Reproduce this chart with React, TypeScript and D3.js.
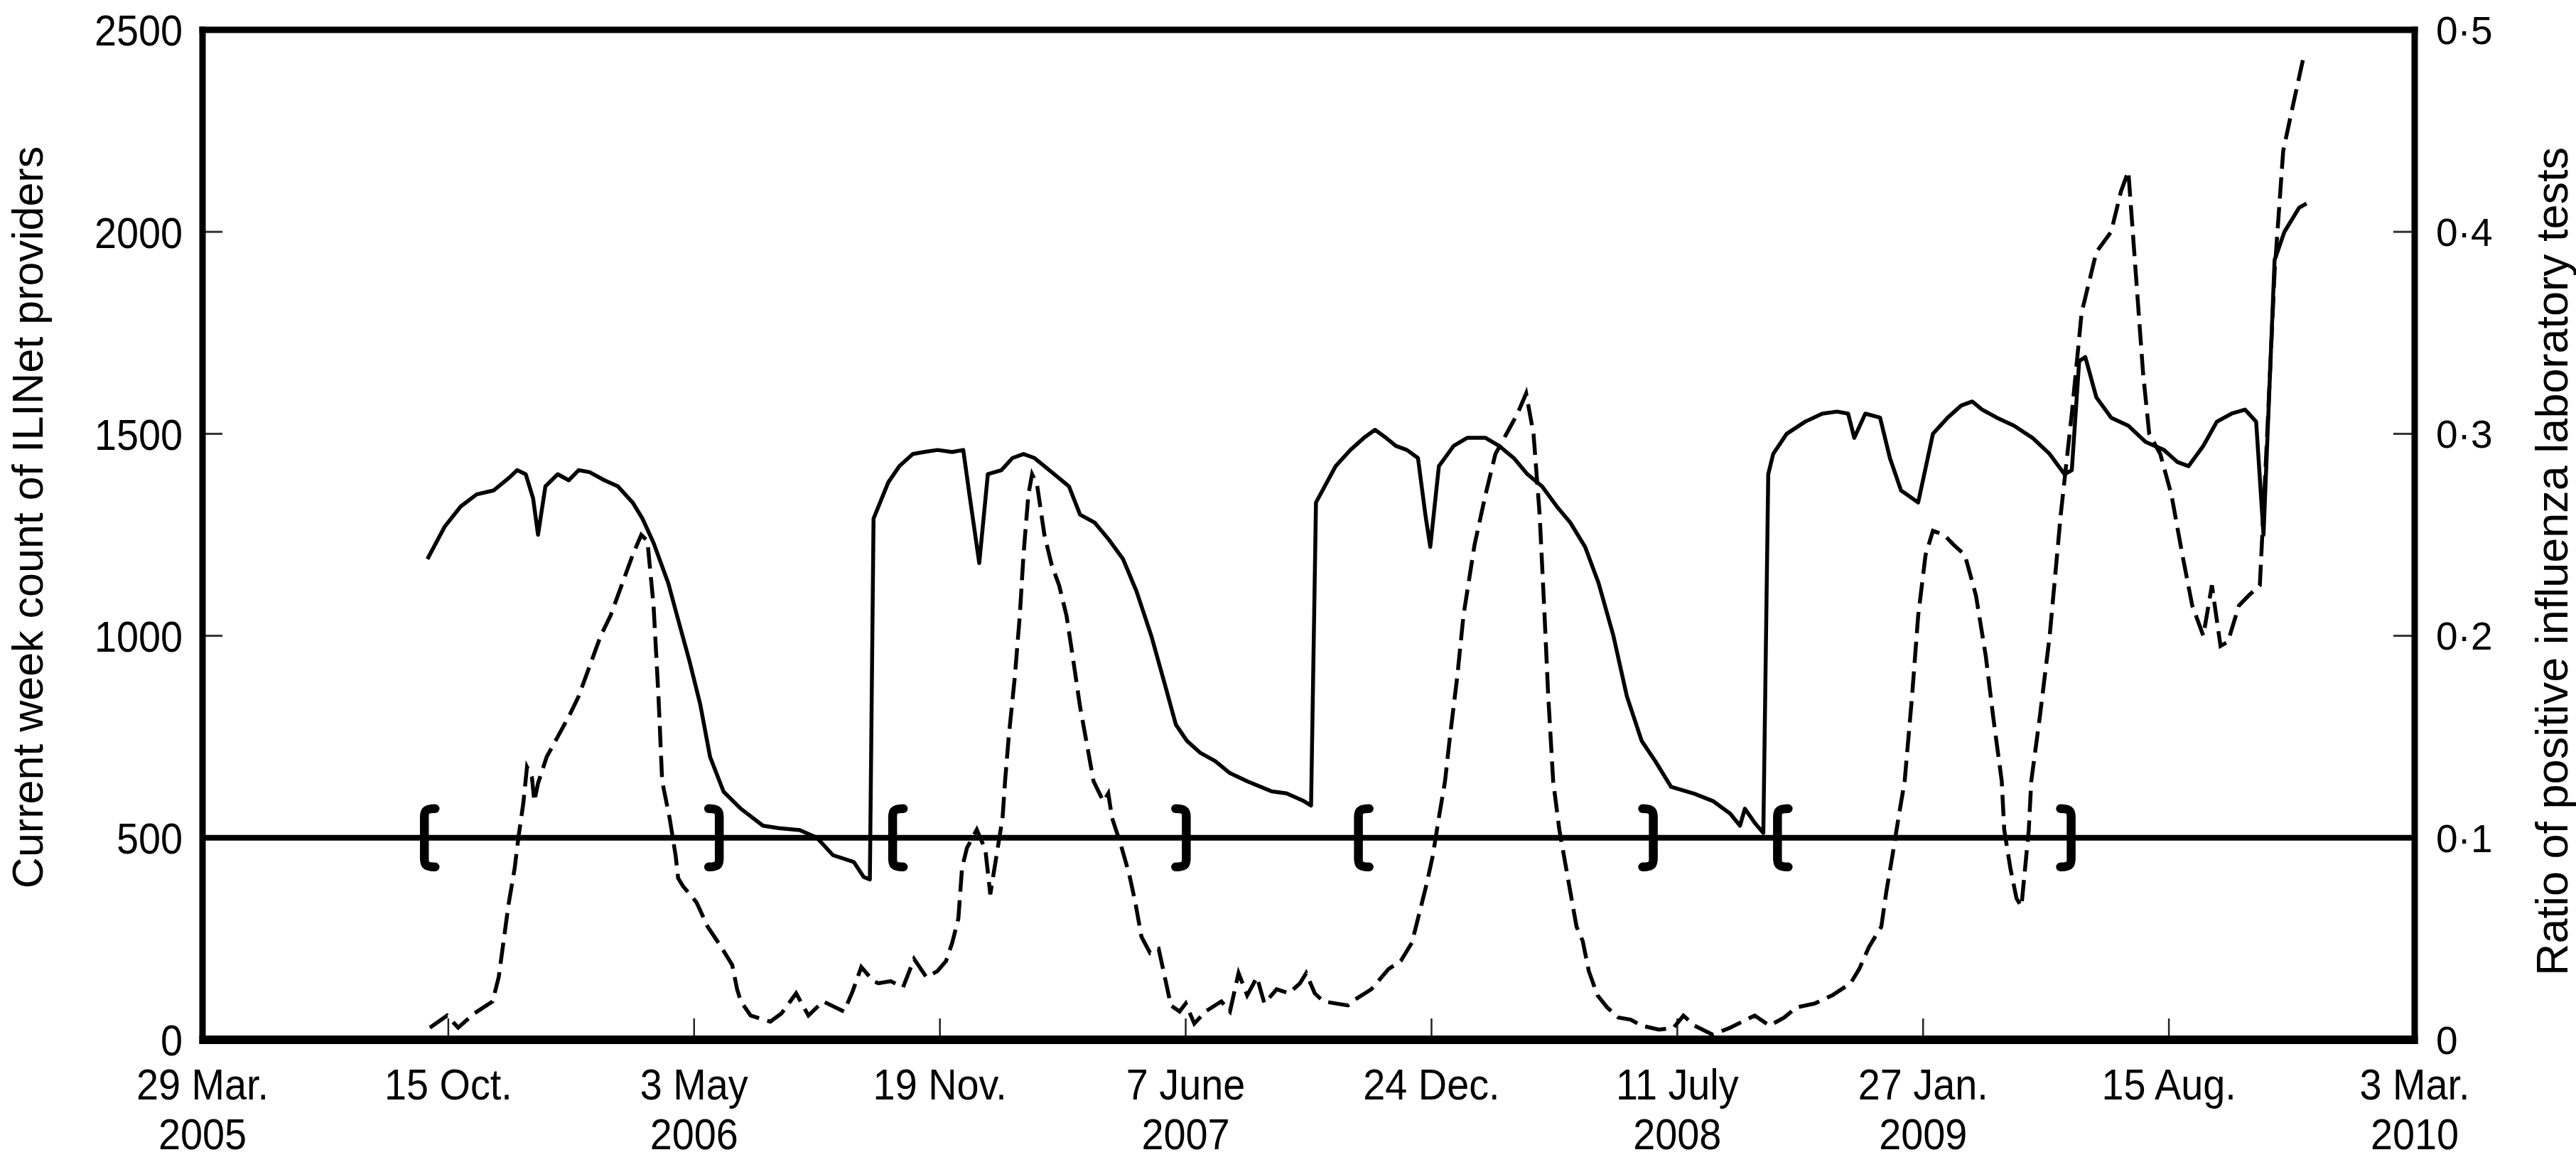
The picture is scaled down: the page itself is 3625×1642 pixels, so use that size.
import React from "react";
import * as d3 from "d3";

// ---------- data ----------
const providerCounts: [string, number][] = [
  ["2005-09-28", 1190], ["2005-10-12", 1270], ["2005-10-25", 1320], ["2005-11-07", 1350],
  ["2005-11-21", 1360], ["2005-12-03", 1390], ["2005-12-10", 1410], ["2005-12-17", 1400],
  ["2005-12-23", 1340], ["2005-12-27", 1250], ["2006-01-02", 1370], ["2006-01-12", 1400],
  ["2006-01-21", 1385], ["2006-01-29", 1410], ["2006-02-07", 1405], ["2006-02-19", 1385],
  ["2006-03-02", 1370], ["2006-03-14", 1330], ["2006-03-22", 1290], ["2006-03-31", 1230],
  ["2006-04-12", 1130], ["2006-04-20", 1040], ["2006-04-29", 940], ["2006-05-08", 830],
  ["2006-05-16", 700], ["2006-05-27", 614], ["2006-06-10", 572], ["2006-06-28", 530],
  ["2006-07-11", 524], ["2006-07-28", 519], ["2006-08-11", 500], ["2006-08-24", 457],
  ["2006-09-10", 440], ["2006-09-18", 403], ["2006-09-23", 397], ["2006-09-26", 1290],
  ["2006-10-08", 1380], ["2006-10-17", 1420], ["2006-10-28", 1450], ["2006-11-06", 1455],
  ["2006-11-17", 1460], ["2006-11-29", 1455], ["2006-12-08", 1460], ["2006-12-13", 1350],
  ["2006-12-21", 1180], ["2006-12-28", 1400], ["2007-01-08", 1410], ["2007-01-17", 1440],
  ["2007-01-26", 1450], ["2007-02-04", 1440], ["2007-02-12", 1420], ["2007-02-24", 1390],
  ["2007-03-04", 1370], ["2007-03-13", 1300], ["2007-03-25", 1280], ["2007-04-05", 1240],
  ["2007-04-17", 1190], ["2007-04-28", 1110], ["2007-05-10", 1000], ["2007-05-21", 880],
  ["2007-05-30", 780], ["2007-06-08", 740], ["2007-06-19", 710], ["2007-07-01", 690],
  ["2007-07-13", 660], ["2007-07-27", 640], ["2007-08-16", 615], ["2007-08-28", 610],
  ["2007-09-11", 591], ["2007-09-17", 580], ["2007-09-21", 1330], ["2007-10-07", 1420],
  ["2007-10-19", 1460], ["2007-10-30", 1490], ["2007-11-08", 1510], ["2007-11-17", 1490],
  ["2007-11-25", 1470], ["2007-12-04", 1460], ["2007-12-13", 1440], ["2007-12-19", 1300],
  ["2007-12-23", 1220], ["2007-12-30", 1420], ["2008-01-11", 1470], ["2008-01-22", 1490],
  ["2008-02-06", 1490], ["2008-02-17", 1470], ["2008-02-29", 1440], ["2008-03-11", 1400],
  ["2008-03-23", 1370], ["2008-04-04", 1320], ["2008-04-15", 1280], ["2008-04-27", 1220],
  ["2008-05-08", 1130], ["2008-05-20", 1000], ["2008-05-31", 850], ["2008-06-12", 740],
  ["2008-06-23", 690], ["2008-07-06", 626], ["2008-07-25", 609], ["2008-08-09", 591],
  ["2008-08-23", 560], ["2008-08-31", 530], ["2008-09-04", 572], ["2008-09-12", 537],
  ["2008-09-19", 512], ["2008-09-23", 1400], ["2008-09-27", 1450], ["2008-10-08", 1500],
  ["2008-10-23", 1530], ["2008-11-06", 1550], ["2008-11-18", 1555], ["2008-11-27", 1550],
  ["2008-12-02", 1490], ["2008-12-11", 1550], ["2008-12-23", 1540], ["2008-12-31", 1440],
  ["2009-01-09", 1360], ["2009-01-23", 1330], ["2009-02-04", 1500], ["2009-02-16", 1540],
  ["2009-02-27", 1570], ["2009-03-08", 1580], ["2009-03-16", 1560], ["2009-03-28", 1540],
  ["2009-04-11", 1520], ["2009-04-26", 1490], ["2009-05-10", 1450], ["2009-05-22", 1400],
  ["2009-05-28", 1410], ["2009-06-03", 1680], ["2009-06-08", 1690], ["2009-06-17", 1590],
  ["2009-06-29", 1540], ["2009-07-13", 1520], ["2009-07-27", 1480], ["2009-08-11", 1460],
  ["2009-08-22", 1430], ["2009-08-31", 1420], ["2009-09-12", 1470], ["2009-09-23", 1530],
  ["2009-10-05", 1550], ["2009-10-16", 1560], ["2009-10-25", 1530], ["2009-10-31", 1250],
  ["2009-11-09", 1930], ["2009-11-17", 2000], ["2009-11-29", 2060], ["2009-12-05", 2070],
];

const positiveRatio: [string, number][] = [
  ["2005-09-30", 0.006], ["2005-10-14", 0.012], ["2005-10-23", 0.006], ["2005-11-05", 0.013],
  ["2005-11-20", 0.019], ["2005-11-25", 0.031], ["2005-11-29", 0.049], ["2005-12-03", 0.067],
  ["2005-12-08", 0.085], ["2005-12-11", 0.1], ["2005-12-15", 0.117], ["2005-12-18", 0.135],
  ["2005-12-22", 0.13], ["2005-12-24", 0.118], ["2005-12-27", 0.127], ["2006-01-03", 0.14],
  ["2006-01-12", 0.15], ["2006-01-21", 0.16], ["2006-01-29", 0.17], ["2006-02-07", 0.185],
  ["2006-02-16", 0.2], ["2006-02-24", 0.21], ["2006-03-05", 0.225], ["2006-03-14", 0.24],
  ["2006-03-21", 0.25], ["2006-03-26", 0.247], ["2006-03-31", 0.215], ["2006-04-04", 0.17],
  ["2006-04-07", 0.128], ["2006-04-13", 0.11], ["2006-04-18", 0.091], ["2006-04-20", 0.08],
  ["2006-04-24", 0.076], ["2006-05-05", 0.068], ["2006-05-14", 0.056], ["2006-05-25", 0.046],
  ["2006-06-03", 0.037], ["2006-06-07", 0.025], ["2006-06-10", 0.019], ["2006-06-18", 0.012],
  ["2006-07-04", 0.009], ["2006-07-13", 0.013], ["2006-07-25", 0.023], ["2006-08-04", 0.012],
  ["2006-08-16", 0.019], ["2006-09-02", 0.014], ["2006-09-09", 0.024], ["2006-09-16", 0.036],
  ["2006-09-26", 0.029], ["2006-09-30", 0.028], ["2006-10-10", 0.029], ["2006-10-20", 0.026],
  ["2006-10-29", 0.04], ["2006-11-08", 0.031], ["2006-11-17", 0.034], ["2006-11-24", 0.039],
  ["2006-11-29", 0.048], ["2006-12-04", 0.06], ["2006-12-07", 0.085], ["2006-12-11", 0.095],
  ["2006-12-19", 0.104], ["2006-12-26", 0.094], ["2006-12-30", 0.072], ["2007-01-04", 0.091],
  ["2007-01-09", 0.11], ["2007-01-11", 0.128], ["2007-01-14", 0.15], ["2007-01-19", 0.18],
  ["2007-01-23", 0.21], ["2007-01-26", 0.24], ["2007-01-30", 0.27], ["2007-02-02", 0.28],
  ["2007-02-06", 0.275], ["2007-02-12", 0.25], ["2007-02-18", 0.235], ["2007-02-24", 0.225],
  ["2007-03-02", 0.21], ["2007-03-07", 0.19], ["2007-03-13", 0.165], ["2007-03-19", 0.145],
  ["2007-03-24", 0.128], ["2007-04-01", 0.118], ["2007-04-05", 0.122], ["2007-04-08", 0.11],
  ["2007-04-15", 0.097], ["2007-04-22", 0.082], ["2007-04-27", 0.068], ["2007-05-02", 0.051],
  ["2007-05-09", 0.043], ["2007-05-16", 0.045], ["2007-05-21", 0.031], ["2007-05-26", 0.017],
  ["2007-06-02", 0.014], ["2007-06-07", 0.018], ["2007-06-14", 0.008], ["2007-06-23", 0.014],
  ["2007-07-06", 0.019], ["2007-07-13", 0.014], ["2007-07-20", 0.033], ["2007-07-27", 0.022],
  ["2007-08-04", 0.031], ["2007-08-10", 0.018], ["2007-08-20", 0.025], ["2007-08-30", 0.023],
  ["2007-09-08", 0.028], ["2007-09-13", 0.033], ["2007-09-20", 0.023], ["2007-09-27", 0.019],
  ["2007-10-07", 0.018], ["2007-10-17", 0.017], ["2007-10-23", 0.02], ["2007-11-05", 0.025],
  ["2007-11-19", 0.035], ["2007-11-29", 0.039], ["2007-12-08", 0.048], ["2007-12-13", 0.06],
  ["2007-12-20", 0.077], ["2007-12-25", 0.091], ["2007-12-30", 0.11], ["2008-01-04", 0.128],
  ["2008-01-08", 0.15], ["2008-01-14", 0.18], ["2008-01-19", 0.21], ["2008-01-28", 0.245],
  ["2008-02-06", 0.27], ["2008-02-14", 0.29], ["2008-02-23", 0.3], ["2008-03-03", 0.31],
  ["2008-03-10", 0.32], ["2008-03-16", 0.3], ["2008-03-21", 0.26], ["2008-03-25", 0.21],
  ["2008-03-28", 0.17], ["2008-04-01", 0.128], ["2008-04-06", 0.104], ["2008-04-13", 0.08],
  ["2008-04-20", 0.056], ["2008-04-25", 0.049], ["2008-04-30", 0.034], ["2008-05-07", 0.022],
  ["2008-05-15", 0.016], ["2008-05-24", 0.011], ["2008-06-03", 0.01], ["2008-06-12", 0.007],
  ["2008-06-26", 0.005], ["2008-07-08", 0.006], ["2008-07-16", 0.012], ["2008-07-25", 0.007],
  ["2008-08-09", 0.0025], ["2008-08-23", 0.006], ["2008-09-12", 0.012], ["2008-09-24", 0.007],
  ["2008-10-06", 0.011], ["2008-10-16", 0.016], ["2008-10-31", 0.018], ["2008-11-14", 0.022],
  ["2008-11-29", 0.028], ["2008-12-06", 0.035], ["2008-12-14", 0.046], ["2008-12-24", 0.056],
  ["2008-12-28", 0.073], ["2009-01-02", 0.091], ["2009-01-07", 0.11], ["2009-01-12", 0.128],
  ["2009-01-18", 0.17], ["2009-01-23", 0.21], ["2009-01-29", 0.24], ["2009-02-04", 0.252],
  ["2009-02-13", 0.25], ["2009-02-21", 0.245], ["2009-03-02", 0.24], ["2009-03-11", 0.22],
  ["2009-03-19", 0.19], ["2009-03-25", 0.16], ["2009-04-01", 0.128], ["2009-04-03", 0.104],
  ["2009-04-08", 0.085], ["2009-04-13", 0.07], ["2009-04-17", 0.066], ["2009-04-23", 0.104],
  ["2009-04-25", 0.128], ["2009-05-02", 0.16], ["2009-05-10", 0.2], ["2009-05-19", 0.26],
  ["2009-05-28", 0.31], ["2009-06-05", 0.36], ["2009-06-17", 0.39], ["2009-06-29", 0.4],
  ["2009-07-07", 0.42], ["2009-07-13", 0.43], ["2009-07-19", 0.38], ["2009-07-25", 0.33],
  ["2009-07-30", 0.3], ["2009-08-08", 0.29], ["2009-08-17", 0.27], ["2009-08-26", 0.24],
  ["2009-09-03", 0.215], ["2009-09-12", 0.2], ["2009-09-19", 0.225], ["2009-09-26", 0.195],
  ["2009-10-02", 0.197], ["2009-10-11", 0.215], ["2009-10-19", 0.22], ["2009-10-28", 0.225],
  ["2009-11-03", 0.3], ["2009-11-09", 0.38], ["2009-11-16", 0.44], ["2009-11-23", 0.46],
  ["2009-12-02", 0.485],
];

const thresholdCount = 500;
const seasonStarts = ["2005-09-29", "2006-10-15", "2007-10-29", "2008-10-04"];
const seasonEnds = ["2006-05-20", "2007-06-04", "2008-06-18", "2009-05-24"];

const xTickDates = [
  "2005-03-29", "2005-10-15", "2006-05-03", "2006-11-19", "2007-06-07",
  "2007-12-24", "2008-07-11", "2009-01-27", "2009-08-15", "2010-03-03",
];
const xTickLabels = [
  "29 Mar.", "15 Oct.", "3 May", "19 Nov.", "7 June",
  "24 Dec.", "11 July", "27 Jan.", "15 Aug.", "3 Mar.",
];
const xTickYears = ["2005", "", "2006", "", "2007", "", "2008", "2009", "", "2010"];
const leftTicks = [0, 500, 1000, 1500, 2000, 2500];
const rightTicks = [0, 0.1, 0.2, 0.3, 0.4, 0.5];

const leftTitle = "Current week count of ILINet providers";
const rightTitle = "Ratio of positive influenza laboratory tests";

const parse = d3.timeParse("%Y-%m-%d");

export default function App() {
  const W = 3625;
  const H = 1642;
  const L = 285, R = 3398, T = 42, B = 1463;

  const x = d3
    .scaleTime()
    .domain([parse("2005-03-29")!, parse("2010-03-03")!])
    .range([L, R]);
  const yL = d3.scaleLinear().domain([0, 2500]).range([B, T]);
  const yR = d3.scaleLinear().domain([0, 0.5]).range([B, T]);

  const solidLine = d3
    .line<[string, number]>()
    .x((d) => x(parse(d[0])!))
    .y((d) => yL(d[1]));
  const dashedLine = d3
    .line<[string, number]>()
    .x((d) => x(parse(d[0])!))
    .y((d) => yR(d[1]));

  const font = "'Liberation Sans', Arial, Helvetica, sans-serif";
  const cond = 0.9; // horizontal condensing of the narrow tick labels
  const yT = yL(thresholdCount);

  const bracketPath = (cx: number, dir: number) => {
    // dir = 1 for "[", -1 for "]"
    const h = 41;
    const w = 15 * dir;
    const bx = cx - 6 * dir;
    return `M${bx + w},${yT - h} C${bx - 2 * dir},${yT - h} ${bx},${yT - h + 6} ${bx},${yT - h + 18} L${bx},${yT + h - 18} C${bx},${yT + h - 6} ${bx - 2 * dir},${yT + h} ${bx + w},${yT + h}`;
  };

  return (
    <div style={{ position: "absolute", left: 0, top: 0 }}>
      <svg width={W} height={H} style={{ display: "block", background: "#fff" }}>
        {/* ticks */}
        {leftTicks.filter((t) => t !== 0 && t !== 2500 && t !== thresholdCount).map((t) => (
          <line key={"lt" + t} x1={L} x2={L + 28} y1={yL(t)} y2={yL(t)} stroke="#333" strokeWidth={3} />
        ))}
        {rightTicks.filter((t) => t !== 0 && t !== 0.5 && t !== 0.1).map((t) => (
          <line key={"rt" + t} x1={R - 30} x2={R} y1={yR(t)} y2={yR(t)} stroke="#333" strokeWidth={3} />
        ))}
        {xTickDates.slice(1, -1).map((d) => (
          <line key={"xt" + d} x1={x(parse(d)!)} x2={x(parse(d)!)} y1={B} y2={B - 30} stroke="#222" strokeWidth={2.5} />
        ))}

        {/* threshold line with season brackets */}
        <line x1={L} x2={R} y1={yT} y2={yT} stroke="#000" strokeWidth={8} />
        {seasonStarts.map((d) => (
          <path key={"bs" + d} d={bracketPath(x(parse(d)!), 1)} fill="none" stroke="#000" strokeWidth={12.5} strokeLinecap="round" />
        ))}
        {seasonEnds.map((d) => (
          <path key={"be" + d} d={bracketPath(x(parse(d)!), -1)} fill="none" stroke="#000" strokeWidth={12.5} strokeLinecap="round" />
        ))}

        {/* series */}
        <path d={dashedLine(positiveRatio)!} fill="none" stroke="#000" strokeWidth={5.5} strokeDasharray="30 12" />
        <path d={solidLine(providerCounts)!} fill="none" stroke="#000" strokeWidth={5.5} strokeLinejoin="round" />

        {/* frame */}
        <line x1={L} x2={L} y1={T - 4.5} y2={B + 6} stroke="#000" strokeWidth={9} />
        <line x1={R} x2={R} y1={T - 4.5} y2={B + 6} stroke="#000" strokeWidth={9} />
        <line x1={L - 4.5} x2={R + 4.5} y1={T} y2={T} stroke="#000" strokeWidth={9} />
        <line x1={L - 4.5} x2={R + 4.5} y1={B} y2={B} stroke="#000" strokeWidth={12} />

        {/* left labels */}
        {leftTicks.map((t) => (
          <text key={"ll" + t} transform={`translate(257,${yL(t)}) scale(${cond},1)`} dy="0.36em" textAnchor="end" fontFamily={font} fontSize={62} fill="#000">
            {t}
          </text>
        ))}
        {/* right labels */}
        {rightTicks.map((t) => (
          <text key={"rl" + t} x={3428} y={yR(t)} dy="0.36em" textAnchor="start" fontFamily={font} fontSize={55} fill="#000">
            {t === 0 ? "0" : d3.format(".1f")(t).replace(".", "·")}
          </text>
        ))}
        {/* x labels */}
        {xTickDates.map((d, i) => (
          <g key={"xl" + d}>
            <text transform={`translate(${x(parse(d)!)},1547) scale(${cond},1)`} textAnchor="middle" fontFamily={font} fontSize={62} fill="#000">
              {xTickLabels[i]}
            </text>
            {xTickYears[i] && (
              <text transform={`translate(${x(parse(d)!)},1617) scale(${cond},1)`} textAnchor="middle" fontFamily={font} fontSize={62} fill="#000">
                {xTickYears[i]}
              </text>
            )}
          </g>
        ))}

        {/* axis titles */}
        <text transform={`translate(60,728) rotate(-90)`} textAnchor="middle" fontFamily={font} fontSize={61} fill="#000">
          {leftTitle}
        </text>
        <text transform={`translate(3613,790) rotate(-90)`} textAnchor="middle" fontFamily={font} fontSize={63} fill="#000">
          {rightTitle}
        </text>
      </svg>
    </div>
  );
}
